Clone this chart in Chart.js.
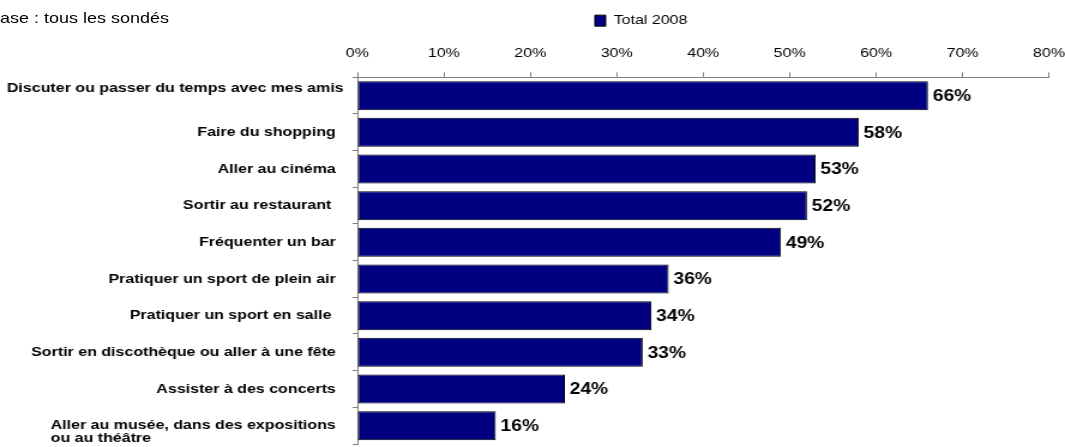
<!DOCTYPE html>
<html>
<head>
<meta charset="utf-8">
<script src="https://cdn.jsdelivr.net/npm/chart.js@4.4.1/dist/chart.umd.min.js"></script>
<style>
  body { margin: 0; background: #fff; overflow: hidden; }
  /* the original picture is stretched horizontally, so the whole chart is too */
  #wrap { position: relative; width: 888px; height: 447px; transform: scaleX(1.19932); transform-origin: 0 0; }
  #base { position: absolute; left: 0; top: 10px; font: 15px "Liberation Sans", Arial, sans-serif; line-height: 1; color: #000; }
  canvas { display: block; }
</style>
</head>
<body>
<div id="wrap">
  <div id="base">ase : tous les sondés</div>
  <canvas id="chart" width="888" height="447"></canvas>
</div>
<script>
// données
const categories = [
  'Discuter ou passer du temps avec mes amis',
  'Faire du shopping',
  'Aller au cinéma',
  'Sortir au restaurant ',
  'Fréquenter un bar',
  'Pratiquer un sport de plein air',
  'Pratiquer un sport en salle ',
  'Sortir en discothèque ou aller à une fête',
  'Assister à des concerts',
  ['Aller au musée, dans des expositions', 'ou au théâtre']
];
const total2008 = [66, 58, 53, 52, 49, 36, 34, 33, 24, 16];
const seriesName = 'Total 2008';
const axisMax = 80;
const axisStep = 10;

const FONT = '"Liberation Sans", Arial, sans-serif';
Chart.defaults.font.family = FONT;
Chart.defaults.color = '#000';

// libellés des catégories (texte aligné à gauche dans le bloc, bloc aligné à droite)
const labelNudge = { 0: { dx: 6.5, dy: -7 } };
const catLabels = {
  id: 'catLabels',
  afterDraw(chart) {
    const { ctx } = chart;
    const y = chart.scales.y;
    ctx.save();
    ctx.font = 'bold 13.33px ' + FONT;
    ctx.fillStyle = '#000';
    ctx.textBaseline = 'middle';
    ctx.textAlign = 'left';
    categories.forEach((label, i) => {
      const lines = Array.isArray(label) ? label : [label];
      const w = Math.max(...lines.map(l => ctx.measureText(l).width));
      const n = labelNudge[i] || {};
      const x = y.right - 18 + (n.dx || 0) - w;
      const yy = y.getPixelForValue(i) + (n.dy || 0);
      lines.forEach((l, k) => ctx.fillText(l, x, yy + k * 13));
    });
    ctx.restore();
  }
};

// valeurs au bout des barres
const barValues = {
  id: 'barValues',
  afterDatasetsDraw(chart) {
    const { ctx } = chart;
    ctx.save();
    ctx.font = 'bold 16px ' + FONT;
    ctx.fillStyle = '#000';
    ctx.textBaseline = 'middle';
    ctx.textAlign = 'left';
    chart.getDatasetMeta(0).data.forEach((bar, i) => {
      ctx.fillText(total2008[i] + '%', bar.x + 4, bar.y + 1);
    });
    ctx.restore();
  }
};

// la légende n'est pas centrée dans l'original
const legendShift = {
  id: 'legendShift',
  afterLayout(chart) {
    const lg = chart.legend;
    const w = lg.width;
    lg.left = 482;
    lg.right = 482 + w;
  }
};

new Chart(document.getElementById('chart'), {
  type: 'bar',
  data: {
    labels: categories,
    datasets: [{
      label: seriesName,
      data: total2008,
      backgroundColor: '#000080',
      borderColor: '#000',
      borderWidth: 1,
      borderSkipped: false,
      barPercentage: 0.79,
      categoryPercentage: 1
    }]
  },
  options: {
    indexAxis: 'y',
    responsive: false,
    animation: false,
    layout: { padding: { top: 0, bottom: 3, left: 0, right: 0 } },
    plugins: {
      legend: {
        position: 'top',
        align: 'start',
        labels: { boxWidth: 9, boxHeight: 11, padding: 14, font: { size: 13.33 }, color: '#000' }
      },
      tooltip: { enabled: false }
    },
    scales: {
      x: {
        position: 'top',
        min: 0,
        max: axisMax,
        ticks: { stepSize: axisStep, padding: 11, font: { size: 13.33 }, callback: v => v + '%' },
        grid: { drawOnChartArea: false, color: '#808080', tickLength: 5 },
        border: { color: '#808080' },
        afterFit: s => { s.height = 40; s.paddingRight = 13.3; }
      },
      y: {
        ticks: { display: false },
        grid: { offset: true, drawOnChartArea: false, color: '#808080', tickLength: 4 },
        border: { color: '#808080' },
        afterFit: s => { s.width = 298; }
      }
    }
  },
  plugins: [catLabels, barValues, legendShift]
});
</script>
</body>
</html>
